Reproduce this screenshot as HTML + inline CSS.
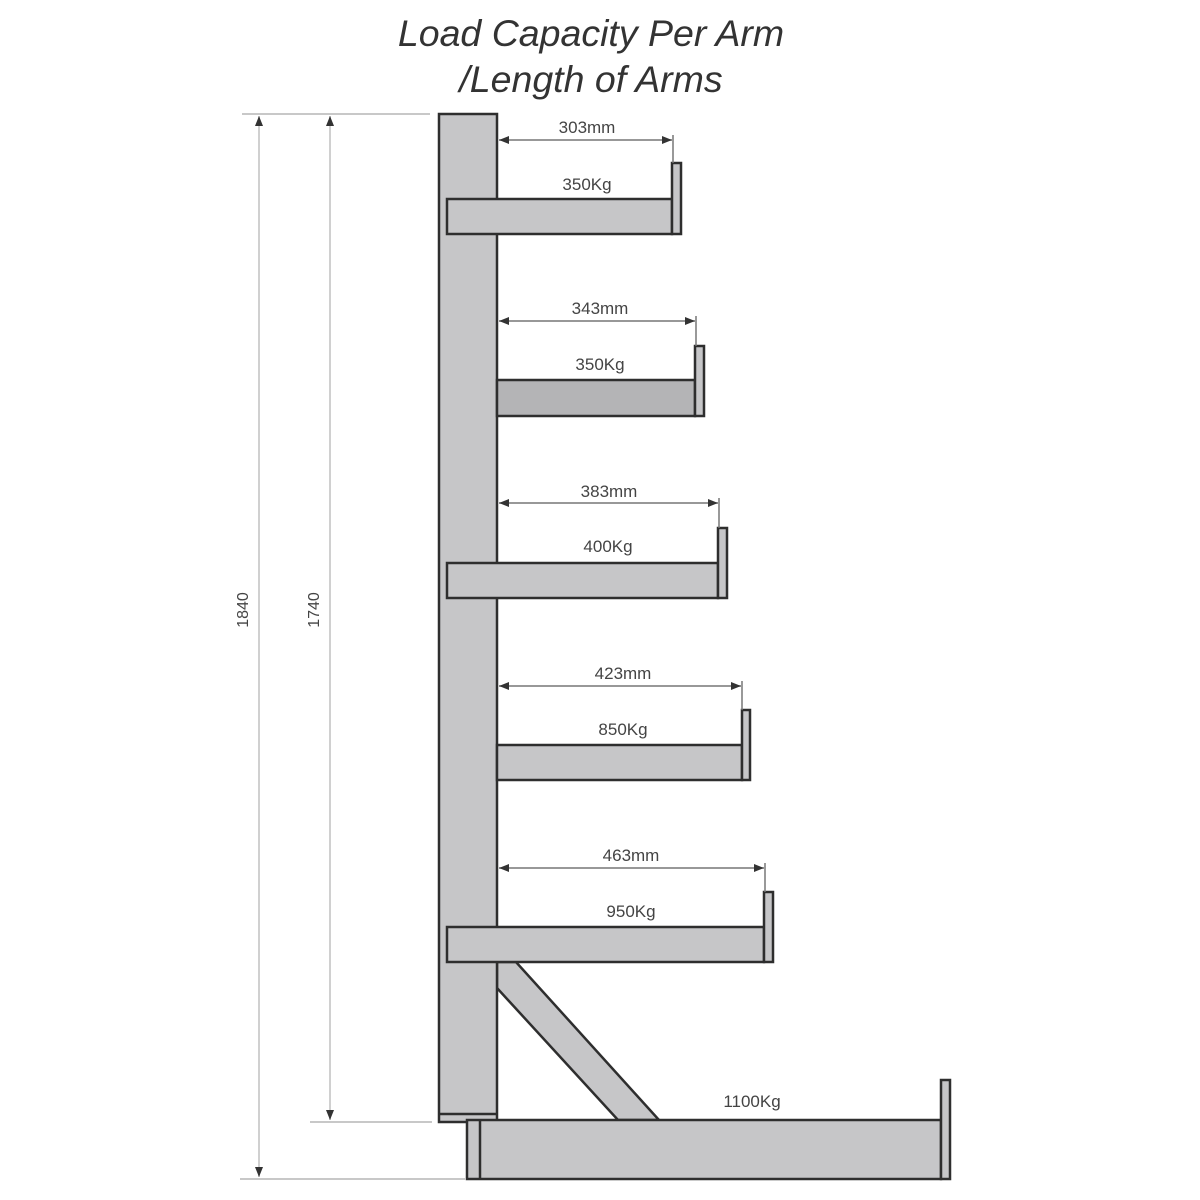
<!DOCTYPE html>
<html><head><style>html,body{margin:0;padding:0;background:#fff;width:1200px;height:1200px;overflow:hidden}</style></head>
<body>
<svg width="1200" height="1200" viewBox="0 0 1200 1200" xmlns="http://www.w3.org/2000/svg" font-family="Liberation Sans, sans-serif">
<defs>
<marker id="a" viewBox="0 0 10 10" refX="10" refY="5" markerWidth="10" markerHeight="10" markerUnits="userSpaceOnUse" orient="auto-start-reverse"><path d="M0,1 L10,5 L0,9 Z" fill="#333"/></marker>
</defs>
<g font-style="italic" font-size="37.5" fill="#333" text-anchor="middle">
<text x="591" y="46">Load Capacity Per Arm</text>
<text x="591" y="92">/Length of Arms</text>
</g>
<g stroke="#c8c8c8" stroke-width="2">
<line x1="242" y1="114" x2="430" y2="114"/>
<line x1="310" y1="1122" x2="432" y2="1122"/>
<line x1="240" y1="1179" x2="465" y2="1179"/>
</g>
<g stroke="#d0d0d0" stroke-width="2">
<line x1="259" y1="116" x2="259" y2="1177" marker-start="url(#a)" marker-end="url(#a)"/>
<line x1="330" y1="116" x2="330" y2="1120" marker-start="url(#a)" marker-end="url(#a)"/>
</g>
<g font-size="16" fill="#444" text-anchor="middle">
<text transform="translate(248,610) rotate(-90)">1840</text>
<text transform="translate(319,610) rotate(-90)">1740</text>
</g>
<g stroke="#2e2e2e" stroke-width="2.5" fill="#c6c6c8">
<polygon points="497,962 516,962 659,1120 618,1120 497,988"/>
<rect x="439" y="114" width="58" height="1008"/>
<line x1="439" y1="1114" x2="497" y2="1114"/>
<rect x="467" y="1120" width="474" height="59"/>
<line x1="480" y1="1120" x2="480" y2="1179"/>
<rect x="941" y="1080" width="9" height="99"/>
<rect x="447" y="199" width="225" height="35"/>
<rect x="672" y="163" width="9" height="71"/>
<rect x="497" y="380" width="198" height="36" fill="#b4b4b6"/>
<rect x="695" y="346" width="9" height="70"/>
<rect x="447" y="563" width="271" height="35"/>
<rect x="718" y="528" width="9" height="70"/>
<rect x="497" y="745" width="245" height="35"/>
<rect x="742" y="710" width="8" height="70"/>
<rect x="447" y="927" width="317" height="35"/>
<rect x="764" y="892" width="9" height="70"/>
</g>
<g stroke="#777" stroke-width="1.5">
<line x1="499" y1="140" x2="672" y2="140" marker-start="url(#a)" marker-end="url(#a)"/>
<line x1="673" y1="135" x2="673" y2="163"/>
<line x1="499" y1="321" x2="695" y2="321" marker-start="url(#a)" marker-end="url(#a)"/>
<line x1="696" y1="316" x2="696" y2="346"/>
<line x1="499" y1="503" x2="718" y2="503" marker-start="url(#a)" marker-end="url(#a)"/>
<line x1="719" y1="498" x2="719" y2="528"/>
<line x1="499" y1="686" x2="741" y2="686" marker-start="url(#a)" marker-end="url(#a)"/>
<line x1="742" y1="681" x2="742" y2="710"/>
<line x1="499" y1="868" x2="764" y2="868" marker-start="url(#a)" marker-end="url(#a)"/>
<line x1="765" y1="863" x2="765" y2="892"/>
</g>
<g font-size="17" fill="#444" text-anchor="middle">
<text x="587" y="133">303mm</text>
<text x="587" y="190">350Kg</text>
<text x="600" y="314">343mm</text>
<text x="600" y="370">350Kg</text>
<text x="609" y="497">383mm</text>
<text x="608" y="552">400Kg</text>
<text x="623" y="679">423mm</text>
<text x="623" y="735">850Kg</text>
<text x="631" y="861">463mm</text>
<text x="631" y="917">950Kg</text>
<text x="752" y="1107">1100Kg</text>
</g>
</svg>
</body></html>
